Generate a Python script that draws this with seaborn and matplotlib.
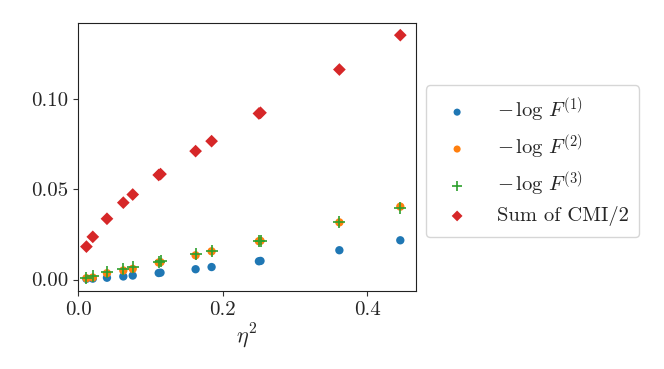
import numpy as np
import pandas as pd
import matplotlib
matplotlib.use('Agg')
import matplotlib.pyplot as plt
import seaborn as sns

sns.set_theme(style='ticks')
plt.rcParams['font.family'] = 'serif'
plt.rcParams['font.serif'] = ['cmr10']
plt.rcParams['mathtext.fontset'] = 'cm'
plt.rcParams['axes.unicode_minus'] = False
plt.rcParams['axes.formatter.use_mathtext'] = True

# eta^2 values (two runs close together at ~0.113 and ~0.251)
eta2 = [0.0116, 0.0204, 0.040, 0.0626, 0.0756, 0.1115, 0.1140, 0.1625, 0.1846, 0.2500, 0.2522, 0.3612, 0.4454]

neglogF1 = [0.0004, 0.0005, 0.0010, 0.0017, 0.0022, 0.0036, 0.0038, 0.0057, 0.0069, 0.0101, 0.0103, 0.0162, 0.0217]
neglogF2 = [0.0007, 0.0011, 0.0035, 0.0050, 0.0059, 0.0094, 0.0096, 0.0134, 0.0156, 0.0212, 0.0214, 0.0316, 0.0403]
neglogF3 = [0.0011, 0.0017, 0.0039, 0.0058, 0.0069, 0.0099, 0.0101, 0.0143, 0.0158, 0.0212, 0.0215, 0.0316, 0.0394]
cmi_half = [0.0182, 0.0236, 0.0336, 0.0425, 0.0470, 0.0578, 0.0583, 0.0710, 0.0765, 0.0918, 0.0922, 0.1161, 0.1351]

labels = [r'$-\,\log\,F^{(1)}$', r'$-\,\log\,F^{(2)}$', r'$-\,\log\,F^{(3)}$', 'Sum of CMI/2']
series = [neglogF1, neglogF2, neglogF3, cmi_half]
colors = ['#1f77b4', '#ff7f0e', '#2ca02c', '#d62728']
markers = ['o', 'o', '+', 'D']
sizes = [36, 36, 70, 42]

fig = plt.figure(figsize=(6.64, 3.69), dpi=100)
ax = fig.add_axes([0.1175, 0.2114, 0.509, 0.7263])

for y, lab, c, m, s in zip(series, labels, colors, markers, sizes):
    df = pd.DataFrame({'eta2': eta2, 'val': y})
    if m == '+':
        sns.scatterplot(data=df, x='eta2', y='val', ax=ax, color=c, marker=m, s=s,
                        linewidth=1.2, label=lab)
    else:
        sns.scatterplot(data=df, x='eta2', y='val', ax=ax, color=c, marker=m, s=s,
                        edgecolor='none', label=lab)

ax.set_xlim(left=0)
ax.set_xticks([0.0, 0.2, 0.4])
ax.set_yticks([0.0, 0.05, 0.10])
ax.set_xticklabels(['0.0', '0.2', '0.4'])
ax.set_yticklabels(['0.00', '0.05', '0.10'])
ax.tick_params(labelsize=15, length=3.5, width=0.8, color='#333333')
ax.set_xlabel(r'$\eta^2$', fontsize=16, labelpad=2)
ax.set_ylabel('')
for sp in ax.spines.values():
    sp.set_visible(True)
    sp.set_color('#222222')
    sp.set_linewidth(0.8)

ax.legend(loc='center left', bbox_to_anchor=(1.0, 0.485), fontsize=14.8, frameon=True,
          labelspacing=0.4, handletextpad=0.95, markerscale=0.85, borderpad=0.5)

fig.savefig('out.png', dpi=100)
